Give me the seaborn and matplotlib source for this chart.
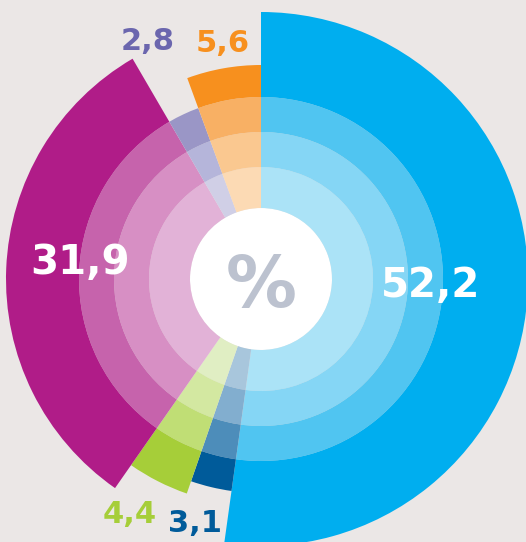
import numpy as np
import matplotlib
matplotlib.use("Agg")
import matplotlib.pyplot as plt
import seaborn as sns

# datos (en sentido horario desde las 12)
labels = ["52,2", "3,1", "4,4", "31,9", "2,8", "5,6"]
values = [52.2, 3.1, 4.4, 31.9, 2.8, 5.6]

# radios de los anillos internos y alcance exterior de cada sector
ring_edges = [71, 112, 147, 182]
outer_reach = [267, 214, 227, 255, 182, 214]

# tonos de interior a exterior
shades = [
    ["#abe3f7", "#85d6f5", "#50c5f1", "#00aeef"],
    ["#a8c6dc", "#82aecf", "#4d8dba", "#005b9a"],
    ["#e0eec3", "#d3e8a1", "#c0de75", "#a6ce39"],
    ["#e2b2d7", "#d78fc4", "#c663ac", "#b01c88"],
    ["#d0cfe6", "#b5b5da", "#9a96c6", "#6d68b0"],
    ["#fcdab4", "#fac890", "#f8b064", "#f7901e"],
]
label_colors = ["white", "#005b9a", "#a6ce39", "white", "#6b66ae", "#f7901e"]
# posicion de las etiquetas en px (x centro, y linea base)
label_pos = [(431, 297), (195, 532), (130, 523), (80, 274), (148, 50), (223, 52)]

bg = "#ebe7e6"
sns.set_style("white")
plt.rcParams["font.family"] = ["DejaVu Sans"]

W, H = 526, 542
cx, cy, rmax = 261, 279, 270
fig = plt.figure(figsize=(W / 100, H / 100), dpi=100, facecolor=bg)
ax = fig.add_axes([(cx - rmax) / W, (H - cy - rmax) / H, 2 * rmax / W, 2 * rmax / H],
                  projection="polar")
ax.set_theta_zero_location("N")
ax.set_theta_direction(-1)
ax.set_ylim(0, rmax)
ax.set_axis_off()

frac = np.array(values) / sum(values)
starts = np.concatenate([[0], np.cumsum(frac)[:-1]]) * 2 * np.pi
widths = frac * 2 * np.pi

# agujero blanco central
ax.bar(0, ring_edges[0], width=2 * np.pi, bottom=0, color="white", linewidth=0)

for i in range(len(values)):
    edges = [e for e in ring_edges if e < outer_reach[i]] + [outer_reach[i]]
    for k in range(len(edges) - 1):
        ax.bar(starts[i], edges[k + 1] - edges[k], width=widths[i], bottom=edges[k],
               align="edge", color=shades[i][k], linewidth=0)

for i, lab in enumerate(labels):
    x, y = label_pos[i]
    size = 29 if label_colors[i] == "white" else 22
    fig.text(x / W, 1 - y / H, lab, ha="center", va="baseline", fontsize=size,
             fontweight="bold", color=label_colors[i])

fig.text(261 / W, 1 - 307 / H, "%", ha="center", va="baseline", fontsize=51,
         fontweight="bold", color="#bcc2cf")

fig.savefig("out.png", dpi=100, facecolor=bg)
